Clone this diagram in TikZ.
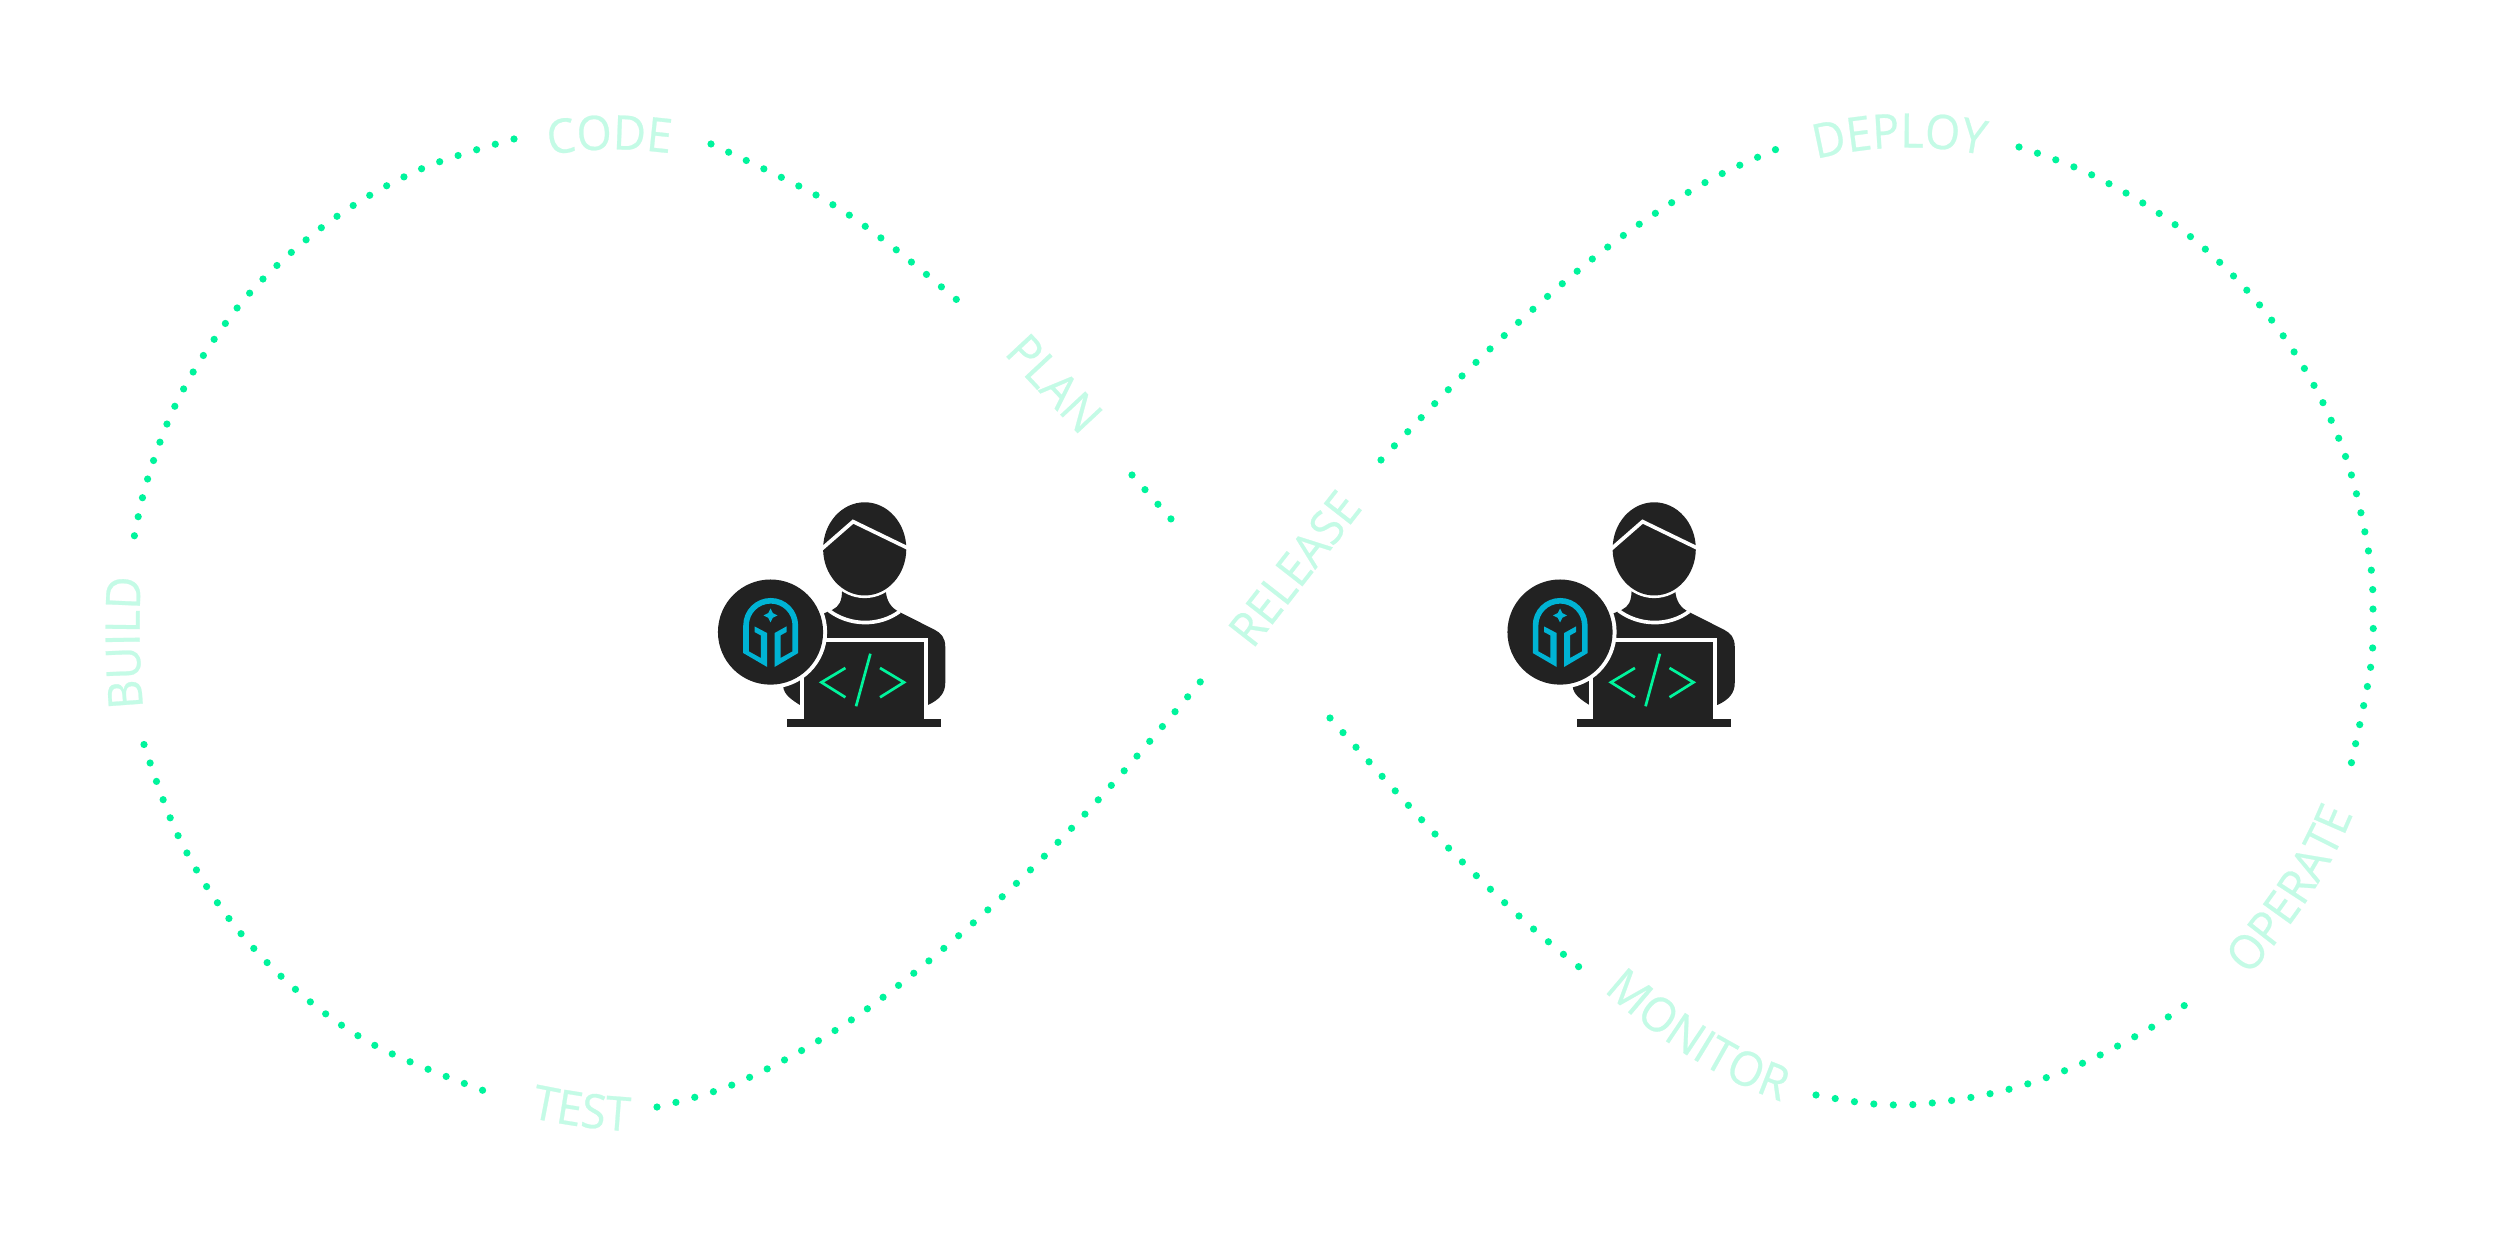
\documentclass[tikz,border=0pt]{standalone}
\usepackage{fontspec}
\usetikzlibrary{decorations.text}
\newfontfamily\labfont[FakeStretch=0.95,FakeBold=0.5]{Open Sans}
\definecolor{dotgreen}{HTML}{00F49C}
\definecolor{labelmint}{HTML}{C4FBE6}
\definecolor{darkfig}{HTML}{222222}
\definecolor{helmetblue}{HTML}{00B3D4}
\newcommand{\labstyle}{\labfont\fontsize{13.5pt}{16pt}\selectfont\color{labelmint}}
\tikzset{
  dotline/.style={draw=dotgreen,line width=0.072cm,line cap=round,dash pattern=on 0pt off #1cm},
  curvedlabel/.style={decorate,decoration={text along path,text={|\labstyle|#1},text align=center}},
  straightlabel/.style={inner sep=0pt,anchor=base,font=\labstyle},
  figfill/.style={fill=darkfig,draw=none},
  gapline/.style={draw=white,line width=0.0367cm},
  codeline/.style={draw=dotgreen,line width=0.027cm},
}
\newcommand{\devperson}[1]{%
  \begin{scope}[shift={(#1,470)},x=0.0033333cm,y=-0.0033333cm]
    % body
    \fill[figfill] (487,360) .. controls (487,395) and (478,410) .. (458,420) -- (430,432) -- (312,500) -- (310,650)
      .. controls (312,675) and (335,690) .. (360,706) -- (745,706)
      .. controls (780,690) and (797,670) .. (797,640) -- (797,530)
      .. controls (797,505) and (785,490) .. (765,480) -- (660,427)
      .. controls (635,415) and (620,395) .. (618,360) -- cycle;
    \draw[gapline] (447,422) .. controls (510,470) and (600,470) .. (660,425);
    % head
    \fill[white] (555,237) ellipse [x radius=133,y radius=148];
    \fill[figfill] (555,237) ellipse [x radius=125,y radius=140];
    \draw[gapline,line join=miter] (426,237) -- (520,155) -- (685,235);
    % laptop
    \fill[white] (360,505) rectangle (745,748);
    \fill[figfill] (372,517) rectangle (733,772);
    \fill[figfill] (322,748) rectangle (785,772);
    \draw[codeline] (497,595) -- (425,638) -- (497,683);
    \draw[codeline] (601,595) -- (673,638) -- (601,683);
    \draw[codeline] (572,552) -- (529,710);
    % badge
    \fill[white] (272,487) circle [radius=170];
    \fill[figfill] (272,487) circle [radius=158];
    \fill[helmetblue] (262,592) -- (190,550) -- (190,467)
      .. controls (190,421.4) and (227,384.5) .. (272.5,384.5)
      .. controls (318,384.5) and (355,421.4) .. (355,467)
      -- (355,550) -- (284,592) -- (284,490) -- (320,470) -- (320,487) -- (302,497) -- (302,565) -- (338,545)
      -- (338,467)
      .. controls (338,431) and (309,401.5) .. (272.5,401.5)
      .. controls (236,401.5) and (207,431) .. (207,467)
      -- (207,545) -- (243,565) -- (243,497) -- (224,487) -- (224,470) -- (262,490) -- cycle;
    \fill[helmetblue] (272,416) -- (279,430) -- (293,437) -- (279,444) -- (272,458) -- (265,444) -- (251,437) -- (265,430) -- cycle;
  \end{scope}}
\begin{document}
\begin{tikzpicture}[x=0.01cm,y=-0.01cm]
\useasboundingbox (0,0) rectangle (2500,1237);
\fill[white] (0,0) rectangle (2500,1237);
% dotted arcs
\draw[dotline=0.1942] plot[smooth,tension=0.6] coordinates {(514,139) (421,169) (336,217) (262,280) (213,341) (174,408) (147,481) (134,538)};
\draw[dotline=0.1945] plot[smooth,tension=0.6] coordinates {(711,144) (816,195) (881,238) (957,300)};
\draw[dotline=0.1955] (1132,475) -- (1171,519);
\draw[dotline=0.1945] plot[smooth,tension=0.6] coordinates {(1381,460) (1462,376) (1548,296) (1624,235) (1706,182) (1777,149)};
\draw[dotline=0.1945] plot[smooth,tension=0.6] coordinates {(2019,147) (2092,175) (2175,224.6) (2247,290.4) (2304.7,369) (2345.7,457) (2368.7,552.5) (2373,610.7) (2370.3,669.3) (2351,764.6)};
\draw[dotline=0.1950] plot[smooth,tension=0.6] coordinates {(1816,1095) (1874,1104) (1932,1103) (2010,1089) (2083,1063) (2152,1027) (2185,1005)};
\draw[dotline=0.1955] plot[smooth,tension=0.6] coordinates {(1330,718) (1435,834) (1519,916) (1579,967)};
\draw[dotline=0.1948] plot[smooth,tension=0.6] coordinates {(657,1107) (732,1085) (818,1041) (899,985) (1003,896) (1099,799) (1201,681)};
\draw[dotline=0.1946] plot[smooth,tension=0.6] coordinates {(144,744.5) (178,835.5) (229,918.6) (296,989.8) (376,1046) (484,1090.8)};
% labels
\path[curvedlabel=CODE] (520,162) .. controls (580,145) and (640,147) .. (700,158);
\path[curvedlabel=DEPLOY] (1790,167) .. controls (1860,143) and (1940,141) .. (2010,162);
\path[curvedlabel=BUILD] (146,735) .. controls (138,670) and (138,610) .. (143,550);
\path[curvedlabel=TEST] (505,1112) .. controls (555,1124) and (605,1132) .. (655,1132);
\path[curvedlabel=MONITOR] (1585,974) .. controls (1650,1035) and (1720,1085) .. (1805,1109);
\path[curvedlabel=OPERATE] (2232,995) .. controls (2290,930) and (2335,870) .. (2362,790);
\node[straightlabel,rotate=-47] (plan) at (1042,395) {PLAN};
\node[straightlabel,rotate=52] (release) at (1308,579) {RELEASE};
% figures
\devperson{680}
\devperson{1469.5}
\end{tikzpicture}
\end{document}
